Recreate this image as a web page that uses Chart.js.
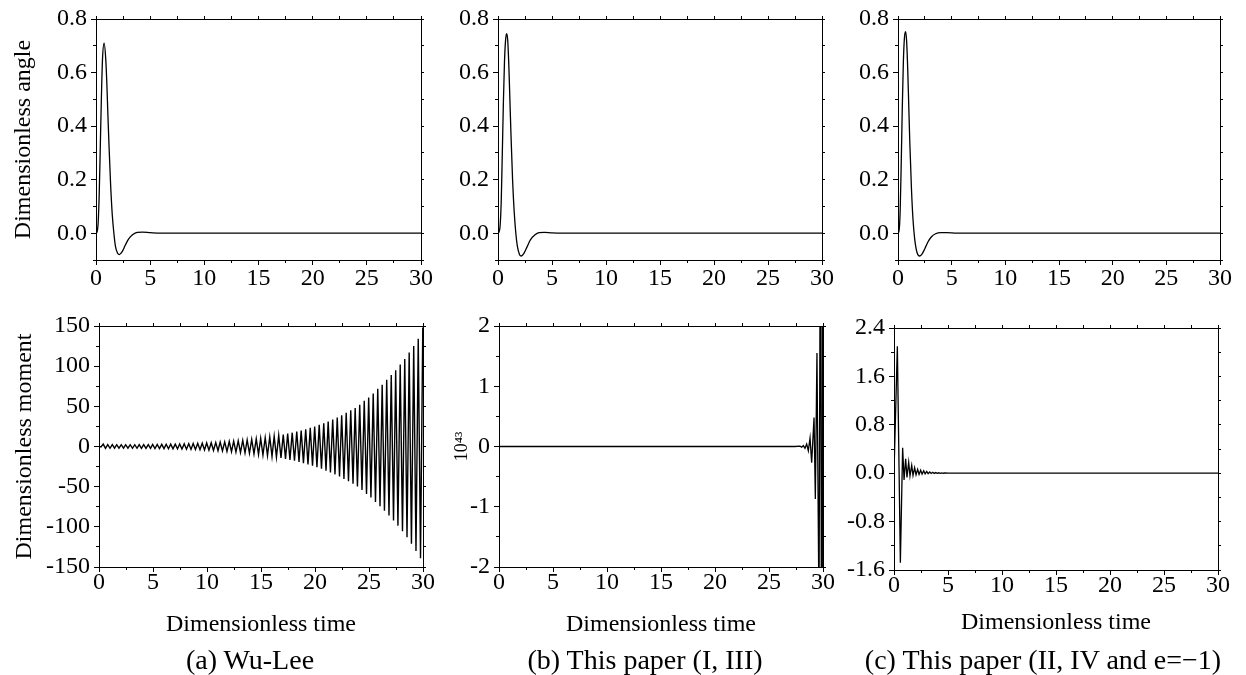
<!DOCTYPE html>
<html>
<head>
<meta charset="utf-8">
<script src="https://cdn.jsdelivr.net/npm/chart.js@4.4.0/dist/chart.umd.min.js"></script>
<style>
    body { margin: 0; background: #fff; width: 1246px; height: 675px; position: relative; overflow: hidden; }
    canvas { position: absolute; }
    .pie { position: absolute; font-family: "Liberation Serif", "Times New Roman", serif; font-size: 28px; line-height: 32px; white-space: nowrap; transform: translateX(-50%); color: #000; }
</style>
</head>
<body>
<canvas id="a1"></canvas>
<canvas id="b1"></canvas>
<canvas id="c1"></canvas>
<canvas id="a2"></canvas>
<canvas id="b2"></canvas>
<canvas id="c2"></canvas>
<div class="pie" style="left:250px;top:644px">(a) Wu-Lee</div>
<div class="pie" style="left:645px;top:644px">(b) This paper (I, III)</div>
<div class="pie" style="left:1043px;top:644px">(c) This paper (II, IV and e=−1)</div>
<script>
// --- ejes ---
const xTicks = [0, 5, 10, 15, 20, 25, 30];
const xTickLabels = ['0', '5', '10', '15', '20', '25', '30'];
const xMinor = [0, 2.5, 5, 7.5, 10, 12.5, 15, 17.5, 20, 22.5, 25, 27.5, 30];

const angleTicks = [0, 0.2, 0.4, 0.6, 0.8];
const angleTickLabels = ['0.0', '0.2', '0.4', '0.6', '0.8'];
const angleMinor = [-0.1, 0, 0.1, 0.2, 0.3, 0.4, 0.5, 0.6, 0.7, 0.8];

const wuTicks = [-150, -100, -50, 0, 50, 100, 150];
const wuTickLabels = ['-150', '-100', '-50', '0', '50', '100', '150'];
const wuMinor = [-150, -125, -100, -75, -50, -25, 0, 25, 50, 75, 100, 125, 150];

const paperTicks = [-2, -1, 0, 1, 2];
const paperTickLabels = ['-2', '-1', '0', '1', '2'];
const paperMinor = [-2, -1.5, -1, -0.5, 0, 0.5, 1, 1.5, 2];

const dampTicks = [-1.6, -0.8, 0, 0.8, 1.6, 2.4];
const dampTickLabels = ['-1.6', '-0.8', '0.0', '0.8', '1.6', '2.4'];
const dampMinor = [-1.6, -1.2, -0.8, -0.4, 0, 0.4, 0.8, 1.2, 1.6, 2.0, 2.4];

// --- fila superior: ángulo ---
const angleTimeA = [0, 0.1, 0.2, 0.3, 0.4, 0.5, 0.6, 0.75, 0.9, 1.0, 1.1, 1.2, 1.35, 1.5, 1.65, 1.8, 2.0, 2.15, 2.4, 2.7, 3.0, 3.4, 3.8, 4.3, 5.0, 6.0, 30];
const angleA = [0, 0.005, 0.04, 0.15, 0.33, 0.51, 0.65, 0.71, 0.65, 0.56, 0.44, 0.33, 0.18, 0.07, 0.0, -0.05, -0.075, -0.08, -0.07, -0.045, -0.022, -0.005, 0.003, 0.004, 0.002, 0, 0];

const angleTimeB = [0, 0.1, 0.2, 0.3, 0.4, 0.5, 0.6, 0.7, 0.8, 0.9, 1.0, 1.1, 1.2, 1.35, 1.5, 1.65, 1.8, 2.0, 2.15, 2.4, 2.7, 3.0, 3.4, 3.8, 4.3, 5.0, 6.0, 30];
const angleB = [0, 0.005, 0.03, 0.12, 0.3, 0.49, 0.64, 0.72, 0.745, 0.72, 0.63, 0.5, 0.37, 0.2, 0.08, 0.0, -0.05, -0.08, -0.085, -0.075, -0.05, -0.025, -0.007, 0.002, 0.003, 0.001, 0, 0];

const angleTimeC = [0, 0.1, 0.2, 0.3, 0.4, 0.5, 0.6, 0.7, 0.8, 0.9, 1.0, 1.1, 1.25, 1.4, 1.55, 1.7, 1.85, 2.0, 2.2, 2.5, 2.8, 3.1, 3.5, 4.0, 4.5, 5.5, 30];
const angleC = [0, 0.01, 0.08, 0.26, 0.47, 0.64, 0.73, 0.753, 0.72, 0.62, 0.48, 0.34, 0.17, 0.05, -0.02, -0.06, -0.08, -0.085, -0.08, -0.058, -0.032, -0.014, -0.002, 0.002, 0.002, 0, 0];

// --- fila inferior: momento ---
const wuTime = [0, 0.18, 0.39, 0.60, 0.81, 1.02, 1.23, 1.44, 1.64, 1.85, 2.06, 2.27, 2.47, 2.68, 2.89, 3.10, 3.31, 3.52, 3.72, 3.93, 4.14, 4.35, 4.56, 4.77, 4.97, 5.18,
    5.39, 5.60, 5.81, 6.02, 6.22, 6.43, 6.64, 6.85, 7.06, 7.27, 7.47, 7.68, 7.89, 8.10, 8.31, 8.52, 8.72, 8.93, 9.14, 9.35, 9.56, 9.77, 9.97, 10.18,
    10.39, 10.60, 10.81, 11.02, 11.22, 11.43, 11.64, 11.85, 12.06, 12.27, 12.47, 12.68, 12.89, 13.10, 13.31, 13.52, 13.72, 13.93, 14.14, 14.35, 14.56, 14.77, 14.97, 15.18,
    15.39, 15.60, 15.81, 16.02, 16.22, 16.43, 16.64, 16.85, 17.06, 17.27, 17.47, 17.68, 17.89, 18.10, 18.31, 18.52, 18.72, 18.93, 19.14, 19.35, 19.56, 19.77, 19.97, 20.18,
    20.39, 20.60, 20.81, 21.02, 21.22, 21.43, 21.64, 21.85, 22.06, 22.27, 22.47, 22.68, 22.89, 23.10, 23.31, 23.52, 23.72, 23.93, 24.14, 24.35, 24.56, 24.77, 24.97, 25.18,
    25.39, 25.60, 25.81, 26.02, 26.22, 26.43, 26.64, 26.85, 27.06, 27.27, 27.47, 27.68, 27.89, 28.10, 28.31, 28.52, 28.72, 28.93, 29.14, 29.35, 29.56, 29.77, 29.98];
const wuMoment = [0, -0.5, 3.0, -2.4, 2.4, -2.2, 2.3, -2.1, 2.2, -2.1, 2.2, -2.1, 2.2, -2.1, 2.2, -2.2, 2.2, -2.2, 2.3, -2.3, 2.3, -2.3, 2.4, -2.4, 2.5, -2.5,
    2.6, -2.6, 2.7, -2.7, 2.8, -2.8, 2.9, -2.9, 3.0, -3.0, 3.1, -3.2, 3.3, -3.4, 3.5, -3.6, 3.7, -3.8, 3.9, -4.0, 4.1, -4.3, 4.4, -4.6,
    4.7, -4.9, 5.0, -5.2, 5.4, -5.6, 5.8, -6.0, 6.2, -6.4, 6.6, -6.9, 7.1, -7.4, 7.6, -7.9, 8.2, -8.5, 8.8, -9.1, 9.5, -9.8, 10.2, -10.6,
    11.0, -11.4, 11.9, -12.3, 12.8, -13.3, 13.8, -14.3, 14.8, -15.4, 16.0, -16.6, 17.2, -17.8, 18.5, -19.2, 20.0, -20.7, 21.5, -22.3, 23.2, -24.0, 25.0, -25.8,
    27.0, -27.8, 29.0, -30.0, 31.0, -32.2, 33.5, -34.7, 36.0, -37.3, 39.0, -40.3, 42.0, -43.2, 45.0, -46.4, 48.0, -49.7, 52.0, -54.0, 57.0, -59.0, 61.0, -63.5,
    66.0, -69.0, 72.0, -74.5, 77.0, -80.0, 83.0, -86.0, 89.0, -92.0, 95.0, -98.5, 102.0, -105.5, 109.0, -113.0, 117.0, -121.0, 125.0, -130.0, 134.0, -139.0, 148.0];

const paperTime = [0, 27.4, 27.87, 28.03, 28.18, 28.33, 28.49, 28.64, 28.80, 28.95, 29.17, 29.29, 29.44, 29.63, 29.77, 29.91, 30.0];
const paperMoment = [0, 0, 0.005, -0.01, 0.015, -0.03, 0.04, -0.07, 0.14, -0.27, 0.48, -0.87, 1.55, -2.8, 5, -9, 15];

const dampTime = [0, 0.31, 0.59, 0.80, 0.93, 1.08, 1.20, 1.36, 1.48, 1.64, 1.76, 1.91, 2.04, 2.19, 2.32, 2.47, 2.60, 2.75, 2.88, 3.03, 3.16, 3.31, 3.44, 3.59, 3.72, 3.87, 4.00, 4.15, 4.28, 4.43, 4.56, 4.71, 5.0, 30];
const dampMoment = [0, 2.1, -1.48, 0.42, -0.11, 0.24, -0.07, 0.18, -0.045, 0.13, -0.035, 0.09, -0.025, 0.065, -0.02, 0.05, -0.015, 0.04, -0.01, 0.03, -0.008, 0.02, -0.005, 0.015, -0.004, 0.01, -0.003, 0.007, -0.002, 0.005, -0.001, 0.003, 0, 0];

const FUENTE = '"Liberation Serif", "Times New Roman", serif';

function fijarTicks(valores) {
    return s => { s.ticks = valores.map(v => ({ value: v })); };
}

// eje sin etiquetas (ticks menores / marco superior y derecho)
function ejeMarca(pos, min, max, valores, largo) {
    const horizontal = pos === 'top' || pos === 'bottom';
    return {
        type: 'linear', position: pos, weight: 0, min: min, max: max,
        afterBuildTicks: fijarTicks(valores),
        afterFit: s => {
            if (horizontal) s.height = 0; else s.width = 0;
            s.paddingLeft = 0; s.paddingRight = 0; s.paddingTop = 0; s.paddingBottom = 0;
        },
        grid: { drawOnChartArea: false, drawTicks: true, tickLength: largo, tickColor: '#000', tickWidth: 1 },
        border: { display: true, color: '#000', width: 1 },
        ticks: { display: false }
    };
}

function crearPanel(id, c) {
    const cv = document.getElementById(id);
    cv.width = c.w;
    cv.height = c.h;
    cv.style.left = c.x + 'px';
    cv.style.top = c.y + 'px';

    const izq = c.plotL - c.x;
    const arriba = c.plotT - c.y;
    const der = c.x + c.w - c.plotR;
    const abajo = c.y + c.h - c.plotB - c.xAlto;

    const datos = c.t.map((t, i) => ({ x: t, y: c.v[i] }));

    new Chart(cv, {
        type: 'line',
        data: {
            datasets: [{
                data: datos,
                borderColor: '#000',
                borderWidth: c.grosor,
                pointRadius: 0,
                fill: false,
                tension: c.suave ? 0.4 : 0,
                cubicInterpolationMode: c.suave ? 'monotone' : 'default'
            }]
        },
        options: {
            responsive: false,
            animation: false,
            devicePixelRatio: 1,
            layout: { padding: { left: 0, top: arriba, right: der, bottom: abajo } },
            plugins: { legend: { display: false }, tooltip: { enabled: false } },
            scales: {
                x: {
                    type: 'linear', position: 'bottom', weight: 1, min: 0, max: 30,
                    afterBuildTicks: fijarTicks(xTicks),
                    afterFit: s => { s.height = c.xAlto; s.paddingLeft = 0; s.paddingRight = 0; },
                    grid: { drawOnChartArea: false, tickLength: 5, tickColor: '#000', tickWidth: 1 },
                    border: { display: true, color: '#000', width: 1 },
                    ticks: {
                        color: '#000', padding: c.xPad, maxRotation: 0, autoSkip: false,
                        font: { family: FUENTE, size: 24 },
                        callback: (v, i) => xTickLabels[i]
                    },
                    title: {
                        display: !!c.xTitulo, text: c.xTitulo || '', color: '#000',
                        font: { family: FUENTE, size: 24 }, padding: 0
                    }
                },
                xm: ejeMarca('bottom', 0, 30, xMinor, 3),
                xt: ejeMarca('top', 0, 30, xMinor, 3),
                y: {
                    type: 'linear', position: 'left', weight: 1, min: c.yMin, max: c.yMax,
                    afterBuildTicks: fijarTicks(c.yTicks),
                    afterFit: s => { s.width = izq; s.paddingTop = 0; s.paddingBottom = 0; },
                    grid: { drawOnChartArea: false, tickLength: 5, tickColor: '#000', tickWidth: 1 },
                    border: { display: true, color: '#000', width: 1 },
                    ticks: {
                        color: '#000', padding: 4, autoSkip: false,
                        font: { family: FUENTE, size: 24 },
                        callback: (v, i) => c.yLabels[i]
                    },
                    title: {
                        display: !!c.yTitulo, text: c.yTitulo || '', color: '#000',
                        font: { family: FUENTE, size: c.yTituloTam || 24 },
                        padding: { top: c.yTituloPad || 0, bottom: 0 }
                    }
                },
                ym: ejeMarca('left', c.yMin, c.yMax, c.yMinor, 3),
                yr: ejeMarca('right', c.yMin, c.yMax, c.yMinor, 3)
            }
        }
    });
}

// fila superior
crearPanel('a1', { x: 0, y: 0, w: 460, h: 300, plotL: 96, plotT: 19, plotR: 421, plotB: 260, xAlto: 40, xPad: -1,
    t: angleTimeA, v: angleA, grosor: 1.3, suave: true,
    yMin: -0.1, yMax: 0.8, yTicks: angleTicks, yLabels: angleTickLabels, yMinor: angleMinor,
    yTitulo: 'Dimensionless angle', yTituloPad: 9 });
crearPanel('b1', { x: 420, y: 0, w: 440, h: 300, plotL: 498, plotT: 19, plotR: 822, plotB: 260, xAlto: 40, xPad: -1,
    t: angleTimeB, v: angleB, grosor: 1.3, suave: true,
    yMin: -0.1, yMax: 0.8, yTicks: angleTicks, yLabels: angleTickLabels, yMinor: angleMinor });
crearPanel('c1', { x: 840, y: 0, w: 406, h: 300, plotL: 898, plotT: 19, plotR: 1220, plotB: 260, xAlto: 40, xPad: -1,
    t: angleTimeC, v: angleC, grosor: 1.3, suave: true,
    yMin: -0.1, yMax: 0.8, yTicks: angleTicks, yLabels: angleTickLabels, yMinor: angleMinor });

// fila inferior
crearPanel('a2', { x: 0, y: 290, w: 460, h: 385, plotL: 99, plotT: 326, plotR: 423, plotB: 567, xAlto: 72, xPad: -4,
    t: wuTime, v: wuMoment, grosor: 1.4, suave: false,
    yMin: -150, yMax: 150, yTicks: wuTicks, yLabels: wuTickLabels, yMinor: wuMinor,
    yTitulo: 'Dimensionless moment', yTituloPad: 10, xTitulo: 'Dimensionless time' });
crearPanel('b2', { x: 420, y: 290, w: 440, h: 385, plotL: 499, plotT: 326, plotR: 823, plotB: 567, xAlto: 72, xPad: -4,
    t: paperTime, v: paperMoment, grosor: 1.3, suave: false,
    yMin: -2, yMax: 2, yTicks: paperTicks, yLabels: paperTickLabels, yMinor: paperMinor,
    yTitulo: '10⁴³', yTituloTam: 18, yTituloPad: 31, xTitulo: 'Dimensionless time' });
crearPanel('c2', { x: 840, y: 290, w: 406, h: 385, plotL: 894, plotT: 328, plotR: 1218, plotB: 570, xAlto: 67, xPad: -4,
    t: dampTime, v: dampMoment, grosor: 1.3, suave: false,
    yMin: -1.6, yMax: 2.4, yTicks: dampTicks, yLabels: dampTickLabels, yMinor: dampMinor,
    xTitulo: 'Dimensionless time' });
</script>
</body>
</html>
